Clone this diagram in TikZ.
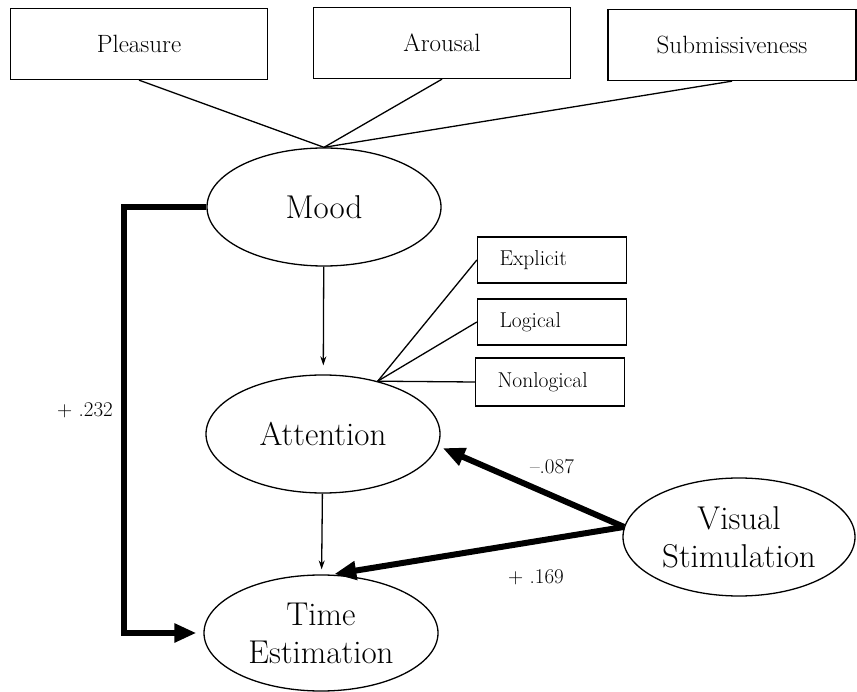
\documentclass[tikz,border=0pt]{standalone}
\usepackage{fontspec}
\usepackage{tikz}
\usetikzlibrary{arrows.meta, shapes.geometric}
\usepackage{xcolor}

\begin{document}
\begin{tikzpicture}
  [x=1pt,y=-1pt,every node/.style={inner sep=0pt},
   factor/.style={rectangle,draw,line width=1.3pt,minimum width=257pt,minimum height=71pt,
     font=\fontsize{25}{27}\selectfont},
   item/.style={rectangle,draw,line width=1.3pt,minimum height=46pt,inner xsep=22pt,
     text width=105pt,align=left,font=\fontsize{21.5}{23}\selectfont},
   latent/.style={ellipse,draw,line width=1.3pt,minimum width=234pt,minimum height=118pt,
     align=center,font=\fontsize{33}{38}\selectfont},
   coef/.style={font=\fontsize{21}{23}\selectfont},
   heavy/.style={line width=6pt,-{Triangle[length=22pt,width=18pt]}},
   flow/.style={line width=1.3pt,-{Stealth[length=9pt,width=6pt]}}]
  \useasboundingbox (0,0) rectangle (857,692);

  \node[factor] (pleasure) at (139,44)  {Pleasure};
  \node[factor] (arousal)  at (442,43)  {Arousal};
  \node[factor,minimum width=248pt] (submiss) at (732,45) {Submissiveness};

  \node[latent] (mood)      at (324,207) {Mood};
  \node[latent] (attention) at (323,434) {Attention};
  \node[latent,minimum height=116pt] (time) at (321,633) {Time\\Estimation};
  \node[latent,minimum width=232pt] (visual) at (739,537) {Visual\\Stimulation};

  \node[item] (explicit)   at (552,260) {Explicit};
  \node[item] (logical)    at (552,322) {Logical};
  \node[item,minimum height=48pt] (nonlogical) at (550,382) {Nonlogical};

  \node[coef] (c232) at (85,410)  {+ .232};
  \node[coef] (c087) at (552,467) {--.087};
  \node[coef] (c169) at (536,577) {+ .169};

  \foreach \from in {pleasure,arousal,submiss}
    \draw[line width=1.3pt] (\from.south) -- (mood.north);
  \foreach \to in {explicit,logical,nonlogical}
    \draw[line width=1.3pt] (attention.44) -- (\to.west);

  \draw[flow,shorten >=9pt] (mood) -- (attention);
  \draw[flow,shorten >=5pt] (attention) -- (time);

  \draw[heavy,shorten >=7pt] (mood.west) -- ++(-82,0) |- (time.west);
  \draw[heavy,shorten >=5pt] (visual.175) -- (attention.-6);
  \draw[heavy,shorten >=3pt] (visual.175) -- (time.80);

\end{tikzpicture}
\end{document}
